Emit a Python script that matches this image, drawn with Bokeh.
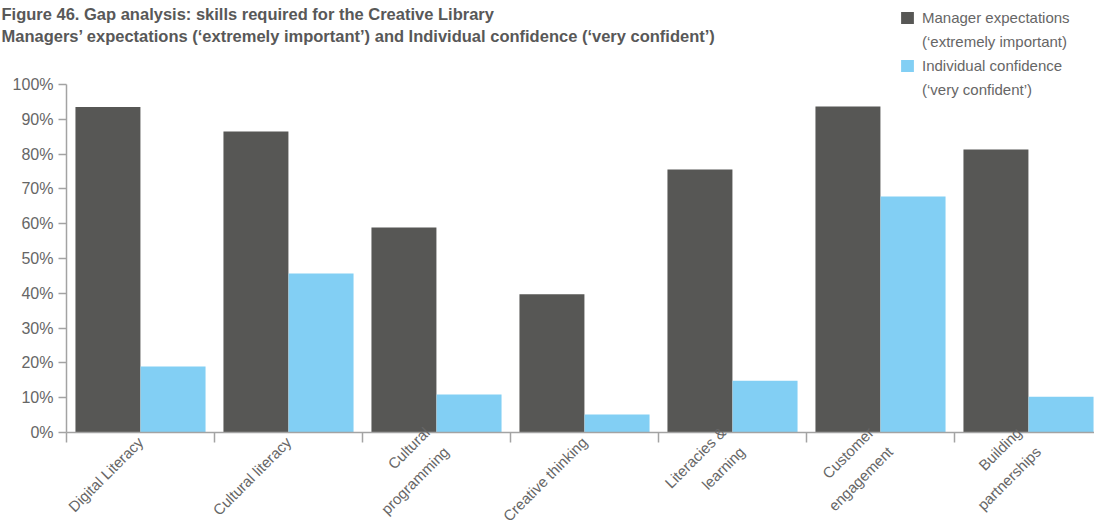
import math
import numpy as np
from bokeh.plotting import figure
from bokeh.models import (ColumnDataSource, FixedTicker, NumeralTickFormatter,
                          Legend, LegendItem, Range1d, Label)
from bokeh.embed import file_html
from bokeh.resources import INLINE

# ---- data ----
categories = ["Digital Literacy", "Cultural literacy", "Cultural\nprogramming",
              "Creative thinking", "Literacies &\nlearning", "Customer\nengagement",
              "Building\npartnerships"]
manager_expectations = [93.5, 86.5, 58.9, 39.7, 75.6, 93.7, 81.3]
individual_confidence = [19.0, 45.7, 10.9, 5.2, 14.9, 67.8, 10.3]
y_ticks = [0, 10, 20, 30, 40, 50, 60, 70, 80, 90, 100]

series_names = [("Manager expectations", "(\u2018extremely important)"),
                ("Individual confidence", "(\u2018very confident\u2019)")]
title_lines = ["Figure 46. Gap analysis: skills required for the Creative Library",
               "Managers\u2019 expectations (\u2018extremely important\u2019) and "
               "Individual confidence (\u2018very confident\u2019)"]

# ---- layout (pixels) ----
W, H = 1094, 524
LEFT, TOP, BOTTOM = 66, 84, 92     # plot area offsets inside the canvas
CAT_PX = 148                       # width of one category group
PLOT_H = H - TOP - BOTTOM          # pixels for 0..100 %
LEG_X, LEG_ROW, LEG_TOP = 899, 24, 5

FONT = "Liberation Sans"
DARK = "#575755"
BLUE = "#82CFF4"
TXT = "#666666"
AX = "#a3a3a3"

n = len(categories)
idx = np.arange(n)
src = ColumnDataSource(dict(
    xm=idx + 0.28, xi=idx + 0.72,
    m=np.array(manager_expectations) / 100.0,
    i=np.array(individual_confidence) / 100.0,
))

p = figure(width=W, height=H, output_backend="svg", toolbar_location=None,
           x_range=Range1d(-LEFT / CAT_PX, (W - LEFT) / CAT_PX),
           y_range=Range1d(-BOTTOM / PLOT_H, 1 + TOP / PLOT_H),
           min_border_left=0, min_border_right=0, min_border_top=0,
           min_border_bottom=0)
p.outline_line_color = None
p.grid.visible = False
p.title.text = ""

r1 = p.vbar(x="xm", top="m", width=0.439, source=src, fill_color=DARK, line_color=None)
r2 = p.vbar(x="xi", top="i", width=0.439, source=src, fill_color=BLUE, line_color=None)
# empty, invisible renderer used for the legend's second text lines
blank = p.vbar(x=[], top=[], width=0.4, fill_color=None, line_color=None)

# y axis (drawn at x = 0, only from 0 to 100 %)
ya = p.yaxis[0]
ya.fixed_location = 0
ya.bounds = (0, 1)
ya.ticker = FixedTicker(ticks=[t / 100.0 for t in y_ticks], minor_ticks=[])
ya.formatter = NumeralTickFormatter(format="0%")
ya.major_label_text_font = FONT
ya.major_label_text_font_size = "16px"
ya.major_label_text_color = TXT
ya.major_tick_out = 8
ya.major_tick_in = 0
ya.major_tick_line_color = AX
ya.major_tick_line_width = 1.5
ya.axis_line_color = AX
ya.axis_line_width = 1.5
ya.major_label_standoff = 5

# x axis (drawn at y = 0): labels at group centres, ticks at group boundaries
xa = p.xaxis[0]
xa.fixed_location = 0
xa.bounds = (0, n)
xa.ticker = FixedTicker(ticks=[float(i) + 0.5 for i in idx],
                        minor_ticks=[float(i) for i in range(n + 1)])
xa.major_label_overrides = {float(i) + 0.5: c for i, c in zip(idx, categories)}
xa.major_label_orientation = math.pi / 4
xa.major_label_text_font = FONT
xa.major_label_text_font_size = "15px"
xa.major_label_text_color = TXT
xa.major_label_text_line_height = 1.6
xa.major_tick_out = 0
xa.major_tick_in = 0
xa.minor_tick_out = 10
xa.minor_tick_in = 0
xa.minor_tick_line_color = AX
xa.minor_tick_line_width = 1.5
xa.axis_line_color = AX
xa.axis_line_width = 1.5
xa.major_label_standoff = -3

# title (two lines at the top-left)
for line, yy in zip(title_lines, [H - 13, H - 35]):
    p.add_layout(Label(x=1, y=yy, x_units="screen", y_units="screen", text=line,
                       text_font=FONT, text_font_size="16.5px", text_font_style="bold",
                       text_color="#585858", text_baseline="middle", text_align="left"))

# legend (top-right); location is the legend's bottom-left corner
items = []
for (first, second), rend in zip(series_names, [r1, r2]):
    items.append(LegendItem(label=first, renderers=[rend]))
    items.append(LegendItem(label=second, renderers=[blank]))
legend = Legend(items=items, location=(LEG_X, H - LEG_TOP - LEG_ROW * len(items)))
legend.border_line_color = None
legend.background_fill_alpha = 0
legend.padding = 0
legend.margin = 0
legend.spacing = 0
legend.glyph_width = 16
legend.glyph_height = 15
legend.label_height = LEG_ROW
legend.label_standoff = 7
legend.label_text_font = FONT
legend.label_text_font_size = "15px"
legend.label_text_color = TXT
legend.label_text_baseline = "middle"
p.add_layout(legend)

open("out.html", "w").write(file_html(p, INLINE))
